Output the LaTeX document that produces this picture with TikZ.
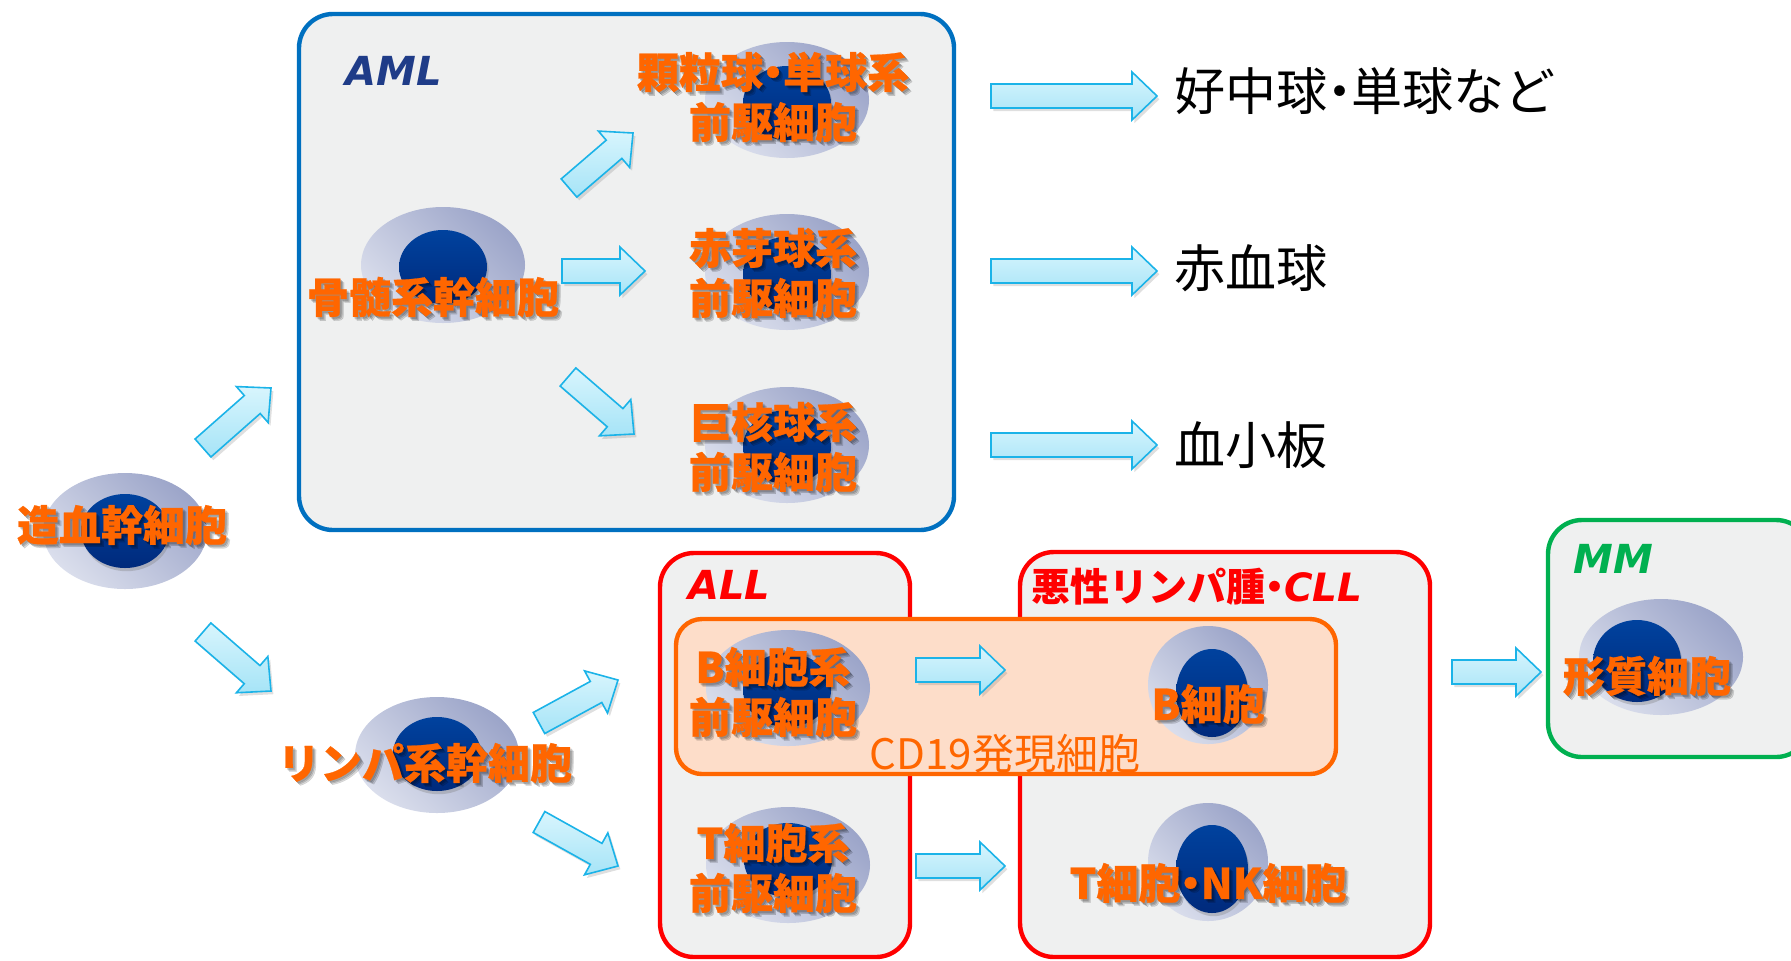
\documentclass[tikz,border=0pt]{standalone}
\usepackage{fontspec}
\usetikzlibrary{calc,shadows,shapes.geometric}
\newfontfamily\jpfont{Noto Sans CJK JP}
\newfontfamily\latfont{DejaVu Sans}[ItalicFont={DejaVu Sans Oblique},BoldItalicFont={DejaVu Sans Bold Oblique}]

% narrow middle dot
\newcommand\ndot{\kern-0.26em・\kern-0.26em}

\definecolor{cellout1}{HTML}{DADEEC}
\definecolor{cellout2}{HTML}{9CA5C9}
\definecolor{nuc1}{HTML}{00429E}
\definecolor{nuc2}{HTML}{002A7C}
\definecolor{labelorange}{HTML}{FF6600}
\definecolor{boxgray}{HTML}{EFF0F0}
\definecolor{amlblue}{HTML}{0070C0}
\definecolor{allred}{HTML}{FF0000}
\definecolor{mmgreen}{HTML}{00B050}
\definecolor{amltext}{HTML}{1F3C88}
\definecolor{cdfill}{HTML}{FDDDC9}
\definecolor{arrowline}{HTML}{1BB3E8}
\definecolor{arrowtop}{HTML}{D8F5FD}
\definecolor{arrowbot}{HTML}{A6E4F7}

\tikzset{
  groupbox/.style={line width=2.2pt, fill=boxgray, rounded corners=17pt},
  cellout/.style={ellipse, inner sep=0pt, minimum width=82pt, minimum height=58pt,
    top color=cellout2, bottom color=cellout1, shading angle=-45},
  nucleus/.style={ellipse, inner sep=0pt, minimum width=44pt, minimum height=37pt,
    top color=nuc1, bottom color=nuc2,
    drop shadow={shadow xshift=0.8pt, shadow yshift=-1.6pt, opacity=.35}},
  olab/.style={font=\jpfont\bfseries\addfontfeature{FakeBold=0.6}\fontsize{21}{25}\selectfont,
    text=labelorange, align=center, inner sep=0pt},
  olabshadow/.style={olab, text=black, opacity=.14},
  outtext/.style={font=\jpfont\fontsize{25.5}{30}\selectfont, text=black, anchor=west, inner sep=0pt},
  grouptitle/.style={font=\latfont\bfseries\itshape\fontsize{20}{24}\selectfont, inner sep=0pt},
  blockarrow/.style={draw=arrowline, line width=0.8pt, line join=miter,
    top color=arrowtop, bottom color=arrowbot,
    drop shadow={shadow xshift=1.2pt, shadow yshift=-1.6pt, opacity=.25}},
}

% block arrow from coordinate #1 to coordinate #2 (tip)
\newcommand\blockarrow[2]{%
  \draw[blockarrow] let \p1=($(#2)-(#1)$), \n1={atan2(\y1,\x1)} in
    ($(#1)+(\n1+90:6pt)$)
    -- ($(#2)+(\n1+180:12.5pt)+(\n1+90:6pt)$)
    -- ($(#2)+(\n1+180:12.5pt)+(\n1+90:12pt)$)
    -- (#2)
    -- ($(#2)+(\n1+180:12.5pt)+(\n1-90:12pt)$)
    -- ($(#2)+(\n1+180:12.5pt)+(\n1-90:6pt)$)
    -- ($(#1)+(\n1-90:6pt)$) -- cycle;}

% orange cell label with a soft shadow behind it; #2 is "x,y"
\newcommand\celllabel[3]{%
  \node[olabshadow] at ([xshift=1.9pt,yshift=-1.9pt]#2) {#3};
  \node[olabshadow] at ([xshift=1.3pt,yshift=-1.3pt]#2) {#3};
  \node[olabshadow] at ([xshift=0.8pt,yshift=-0.8pt]#2) {#3};
  \node[olab] (#1) at (#2) {#3};}

\begin{document}
\begin{tikzpicture}[x=0.5pt,y=-0.5pt]
\clip (0,0) rectangle (1791,960);
\useasboundingbox (0,0) rectangle (1791,960);

% group boxes
\draw[groupbox, draw=amlblue] (299,14) rectangle (954,530);
\draw[groupbox, draw=allred] (660,553) rectangle (910,957);
\draw[groupbox, draw=allred] (1020,552) rectangle (1430,957);
\draw[groupbox, draw=mmgreen] (1548,520) rectangle (1810,757);
\draw[line width=2.2pt, draw=labelorange, fill=cdfill, rounded corners=13pt] (676,619) rectangle (1336,774);

\node[grouptitle, text=amltext] (aml) at (394,71) {AML};
\node[grouptitle, text=allred] (all) at (729,585) {ALL};
\node[inner sep=0pt, text=allred] (lym) at (1197,587)
  {{\jpfont\bfseries\fontsize{19.5}{23}\selectfont 悪性リンパ腫\ndot}{\latfont\bfseries\itshape\fontsize{19.5}{23}\selectfont CLL}};
\node[grouptitle, text=mmgreen] (mm) at (1613,559) {MM};

% arrow end points
\coordinate (a1s) at (203,448);  \coordinate (a1e) at (271,388);
\coordinate (a2s) at (203,632);  \coordinate (a2e) at (271,691);
\coordinate (a3s) at (569,188);  \coordinate (a3e) at (633,133);
\coordinate (a4s) at (562,271);  \coordinate (a4e) at (645,271);
\coordinate (a5s) at (568,377);  \coordinate (a5e) at (634,434);
\coordinate (a6s) at (539,723);  \coordinate (a6e) at (618,680);
\coordinate (a7s) at (539,822);  \coordinate (a7e) at (618,866);
\coordinate (a8s) at (916,670);  \coordinate (a8e) at (1005,670);
\coordinate (a9s) at (916,866);  \coordinate (a9e) at (1005,866);
\coordinate (a10s) at (1452,672); \coordinate (a10e) at (1541,672);
\coordinate (o1s) at (991,96);   \coordinate (o1e) at (1157,96);
\coordinate (o2s) at (991,271);  \coordinate (o2e) at (1157,271);
\coordinate (o3s) at (991,445);  \coordinate (o3e) at (1157,445);

\foreach \a in {a1,a2,a3,a4,a5,a6,a7,a8,a9,a10,o1,o2,o3}{\blockarrow{\a s}{\a e}}

% cells
\node[cellout] (hsc) at (125,531) {};
\node[nucleus] at (125,531) {};
\node[cellout] (msc) at (443,265) {};
\node[nucleus] at (443,267) {};
\node[cellout] (gmp) at (787,100) {};
\node[nucleus] at (787,103) {};
\node[cellout] (ery) at (787,272) {};
\node[nucleus] at (787,274) {};
\node[cellout] (meg) at (787,445) {};
\node[nucleus] at (787,447) {};
\node[cellout] (lsc) at (437,755) {};
\node[nucleus] at (437,754) {};
\node[cellout] (bpre) at (788,688) {};
\node[nucleus] at (787,690) {};
\node[cellout] (tpre) at (788,865) {};
\node[nucleus] at (788,860) {};
\node[cellout, minimum width=60pt, minimum height=59pt] (bcell) at (1208,685) {};
\node[nucleus, minimum width=36pt, minimum height=44pt] at (1212,693) {};
\node[cellout, minimum width=60pt, minimum height=59pt] (tcell) at (1208,862) {};
\node[nucleus, minimum width=36pt, minimum height=44pt] at (1212,869) {};
\node[cellout] (pc) at (1661,657) {};
\node[nucleus, minimum width=44pt, minimum height=41pt] at (1637,661) {};

% cell names
\celllabel{hscl}{122,525}{造血幹細胞}
\celllabel{mscl}{433,297}{骨髄系幹細胞}
\celllabel{gmpl}{773,97}{顆粒球\ndot 単球系\\前駆細胞}
\celllabel{eryl}{773,273}{赤芽球系\\前駆細胞}
\celllabel{megl}{773,447}{巨核球系\\前駆細胞}
\celllabel{lscl}{425,763}{リンパ系幹細胞}
\celllabel{bprel}{773,692}{B細胞系\\前駆細胞}
\celllabel{tprel}{773,868}{T細胞系\\前駆細胞}
\celllabel{bcelll}{1208,704}{B細胞}
\celllabel{tcelll}{1208,883}{T細胞\ndot NK細胞}
\celllabel{pcl}{1647,676}{形質細胞}

\node[font=\jpfont\fontsize{21}{25}\selectfont, text=labelorange, inner sep=0pt] (cd19) at (1005,754) {CD19発現細胞};

% mature cells
\node[outtext] (neu) at (1174,91) {好中球\ndot 単球など};
\node[outtext] (rbc) at (1174,268) {赤血球};
\node[outtext] (plt) at (1174,445) {血小板};
\end{tikzpicture}
\end{document}
